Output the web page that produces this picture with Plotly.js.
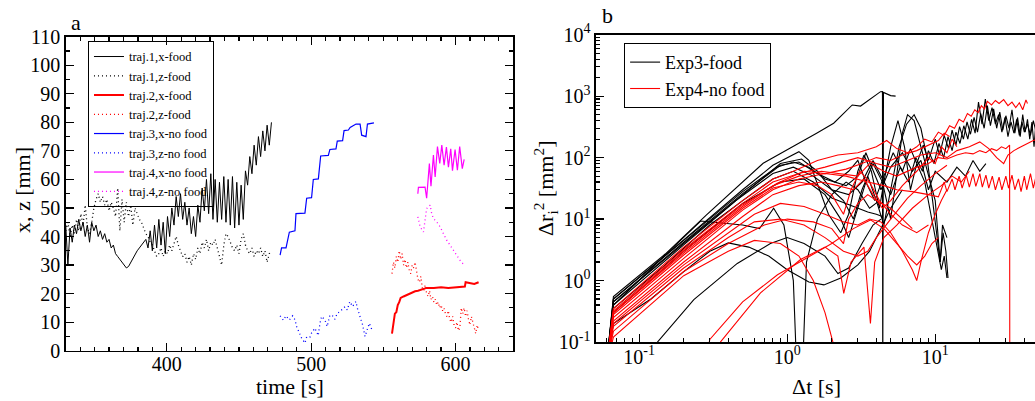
<!DOCTYPE html>
<html>
<head>
<meta charset="utf-8">
<script src="https://cdn.plot.ly/plotly-3.0.1.min.js"></script>
<style>html,body{margin:0;padding:0;background:#fff}#chart{width:1035px;height:401px}</style>
</head>
<body>
<div id="chart"></div>
<script>
// ---- panel a : positions vs time ----
// traj 1 sampled every 1.5 s from 330 s
const traj1X = [44,30,43,38,44,41,46,42,45,40,44,38,45,42,44,40,42,
  39,41,38,39,36,37,34,33,32,31,30,29,29.5,
  31,32.5,34,35,36,37,38,39,
  36,42,35,44,36,46,37,45,34,47, 40,50,44,54,47,55,46,52,44,50,
  41,47,40,51,45,57,49,60,48,62, 46,60,45,59,46,61,45,60,44,61,
  43,59,44,58,46,63,58,68,62,72, 65,75,68,77,70,79,72,80];
const traj1Z = [42,45,40,44,41,46,42,48,44,51,43,41,45,50,53,55,52,
  54,51,53,49,52,50,47,57,42,53,45,52,47,
  51,44,50,48,46,45,43,41,
  40,38,37,35,33,34,36,33,35,34, 37,35,38,40,37,35,33,34,31,33,
  30,34,32,36,34,38,36,39,35,38, 37,39,36,34,30,37,41,40,38,36,
  35,37,34,39,41,37,35,34,36,33, 35,34,36,33,35,31,34,35];

// traj 2
const traj2Xt = [556,557,558,559,560,561,562,564,566,568,570,572,574,576,578,580,585,590,595,600,605,606.5,607,610,613,616];
const traj2X  = [6,10,13,13.5,16,17,18.5,19,19.5,19.8,20.5,20.8,21,21.3,21.8,22,22,22.2,22,22.2,22.2,22.5,24,23.6,23.4,24];
// sampled every 1 s from 556 s
const traj2Z = [27,31,29,33,31,35,32,34,30,32, 29,31,28,27,30,29,31,27,25,24,
  26,22,21,23,20,19,21,18,19,17, 18,16,17,15,16,14,15,13,12,14,
  11,10,12,9,8,10,7,8,15,13, 15,12,14,11,9,12,10,8,6,9, 7];

// traj 3
const traj3Xt = [478.5,479.5,482.6,484.9,488.8,489.5,495.7,496.9,500.3,501.5,505,506.6,511.9,513,517.2,518.1,521.8,522.8,525.8,527,531.1,533.9,535,538,539,542,543.5];
const traj3X  = [33.5,36,36,41.5,42,48,48.2,53.4,53.6,60,60.2,68.2,68.4,70.5,70.7,73.4,73.6,77.1,77.3,78.2,79.4,79.4,75.5,75,79.4,79.6,79.8];
const traj3Zt = [478.5,480.8,482.6,484.9,487.2,488.8,490,491.8,493.4,495.7,496.9,499.2,500.3,502.6,504.9,506.1,507.2,509.5,511.1,513,514.8,516.4,518.1,519.9,521.8,523.4,525,526.8,528.7,531,532,533.9,535.7,537.3,539,540.3,542.6];
const traj3Z  = [12.2,10.7,12.2,10.8,12.2,10.8,8.4,5.9,4.4,2.7,4.8,4.8,6.2,7.9,5.3,9.6,12,10.8,8.5,12.5,12.2,11,13.1,13.7,14.5,15.4,14.3,17.2,15.5,17.2,14.9,12,9,5,7.9,9.6,6.7];

// traj 4
const traj4Xt = [573.9,574.3,578.9,580,581.9,583,584.7,585.9,587.5,589.1,590.5,592.1,593.7,595.1,596.7,597.9,599.7,601.3,602.9,604.7,606];
const traj4X  = [55,57.2,57.3,53.4,65.6,57.6,68.5,60.9,71.5,65.6,72,65,71.3,64.3,70.7,63.1,70.5,63.2,71.5,63.8,67];
const traj4Zt = [573.9,575.5,577.8,579,580,582.4,583.5,584.7,587,589.3,591.6,593.9,596.2,598.5,600.8,603.1,606.1];
const traj4Z  = [46.9,43.4,41.6,46.9,49.8,51,48,46.3,45.1,43.4,41,38.7,37,35.2,33.4,31.7,29.9];

// ---- panel b : mean square displacement curves [dt, dr2] ----
const e3_1 = [[0.06,0.04],[0.067,0.55],[0.15,2.7],[0.285,11.7],[0.688,81],[1.155,161],[1.58,249],[2.06,363],[2.75,719],[3.13,690],[4.27,1183],[4.4,1190],[4.42,0.02],[4.47,1150],[5.0,1020],[5.4,1000]];
const e3_2 = [[0.06,0.04],[0.067,0.5],[0.2,4.6],[0.5,30],[0.8,75],[1.2,125],[1.4,90],[1.65,30],[1.9,12],[2.3,6],[2.6,12],[3.0,60],[3.3,110],[3.7,60],[4.2,15],[4.5,40],[5,150],[5.6,400],[6.2,150],[6.8,30],[7.5,80],[8.5,40],[9.5,10],[10.5,3],[11,1.5],[11.5,2.5],[12,1.1]];
const e3_3 = [[0.06,0.04],[0.067,0.45],[0.2,4],[0.5,25],[0.9,80],[1.25,95],[1.6,60],[2.0,30],[2.4,20],[2.8,10],[3.2,30],[3.8,80],[4.4,40],[5.0,10],[5.5,60],[6.0,250],[6.5,500],[7.2,400],[8,150],[9,50],[10,20],[10.8,2],[11.2,8],[12,5]];
const e3_4 = [[0.06,0.04],[0.067,0.4],[0.26,9.3],[0.5,8],[0.65,7],[0.81,15],[0.95,8],[1.1,1],[1.17,0.02],[1.26,0.02],[1.35,2],[1.6,10],[2,25],[2.5,40],[3,30],[3.6,15],[4.2,20]];
const e3_5 = [[0.06,0.04],[0.067,0.2],[0.12,0.5],[0.2,1.4],[0.3,3],[0.4,4.1],[0.55,3.5],[0.75,2.5],[1.0,1.5],[1.4,0.95],[1.77,0.85],[2.3,1.1],[3.0,1.8],[3.6,3],[4.3,7],[5,15],[6,30]];
const e3_6 = [[0.12,0.05],[0.133,0.1],[0.234,0.49],[0.46,1.9],[0.77,4],[1.0,5],[1.3,4],[1.8,2.5],[2.2,1.3],[2.6,1.6],[3.2,4],[3.8,8],[4.3,10]];
const e3_7 = [[0.06,0.04],[0.067,0.35],[0.15,1.8],[0.3,8],[0.5,20],[0.8,45],[1.1,60],[1.5,40],[2,22],[2.5,18],[3,15],[3.5,13],[4,12],[4.4,11]];
const e3_8 = [[0.06,0.04],[0.067,0.5],[0.2,4.5],[0.5,28],[0.85,70],[1.1,85],[1.4,70],[1.8,45],[2.5,35],[3,50],[3.4,120],[3.8,60],[4.3,30],[5,70],[6,120],[7,60],[8,90],[9,30],[10,60],[12,40],[14,70],[16,50],[18,90],[20,60],[22,80]];
const e3_9 = [[0.06,0.04],[0.067,0.45],[0.2,4.2],[0.5,26],[0.9,75],[1.2,85],[1.6,55],[2.1,40],[2.6,60],[3,90],[3.4,40],[3.9,20],[4.5,50],[5.2,120],[6,60],[6.8,140],[7.5,80],[8.3,160],[9,90],[10,200],[10.7,110],[11.5,230],[12.3,140],[13,280],[13.8,160],[14.6,320],[15.5,200],[16.4,380],[17.3,240],[18.3,450],[19.3,260],[20.3,520],[21.4,300],[22.5,700],[23.6,330],[24.8,620],[26,300],[27.3,550],[28.6,280],[30,480],[31.5,300],[33,600],[34.5,250],[36,450],[37.5,220],[39,500],[40.5,260],[42,420],[43.5,200],[45,380],[46.5,150],[48,400],[50,200]];
const e3_10 = [[0.06,0.04],[0.067,0.4],[0.2,3.8],[0.45,20],[0.8,55],[1.1,70],[1.5,50],[2,30],[2.6,25],[3.2,40],[3.8,90],[4.3,50],[5,25],[5.8,70],[6.6,40],[7.4,100],[8.2,60],[9,130],[9.8,80],[10.6,170],[11.4,100],[12.2,220],[13,130],[13.8,260],[14.7,170],[15.6,330],[16.6,200],[17.6,420],[18.6,250],[19.6,800],[20.7,350],[21.8,900],[23,400],[24.2,650],[25.5,350],[26.8,500],[28.2,260],[29.6,450],[31,220],[32.5,380],[34,250],[35.5,420],[37,230],[38.5,380],[40,260],[42,350],[44,230],[46,400],[48,260],[50,500]];
const e3_11 = [[0.06,0.04],[0.067,0.3],[0.2,3],[0.5,18],[0.9,40],[1.3,45],[1.8,25],[2.3,10],[2.6,5],[3,15],[3.5,50],[4,20],[4.5,8],[5,30],[5.7,150],[6.4,350],[7.2,500],[8,300],[8.8,100],[9.6,20],[10.3,5],[10.8,2],[11.3,6],[11.8,3],[12.2,1.1]];

const e4_1 = [[0.06,0.04],[0.067,0.35],[0.2,3.5],[0.5,20],[0.8,45],[1.1,60],[1.6,90],[2.2,110],[3,120],[4,150],[4.7,190],[5.5,140],[6.5,120],[7.5,150],[8.5,200],[9.5,180],[10.5,260],[11.5,230],[12.5,330],[13.5,300],[14.5,420],[15.5,380],[16.5,520],[17.5,470],[18.5,600],[19.5,540],[20.5,700],[21.5,620],[22.5,820],[24,720],[25.5,850],[27,760],[29,880],[31,700],[33,800],[35,650],[37,780],[39,600],[41,870],[42,760]];
const e4_2 = [[0.06,0.04],[0.067,0.25],[0.2,2.3],[0.5,14],[0.8,30],[1.2,45],[1.8,55],[2.5,50],[3.5,40],[4.5,35],[5.5,30],[7,28],[9,25],[10.5,23],[11.5,40],[12,28],[13,45],[13.6,30],[14.5,50],[15.2,32],[16.2,52],[17,33],[18,55],[18.8,34],[20,55],[20.8,33],[22,52],[23,32],[24.3,50],[25.5,30],[27,48],[28.2,30],[30,50],[31.3,32],[33,52],[34.5,30],[36.5,45],[38,28],[40,50],[41.5,30],[44,55],[46,32],[48,50],[50,35]];
const e4_3 = [[0.06,0.04],[0.067,0.3],[0.2,3],[0.5,17],[0.8,35],[1.2,50],[1.7,60],[2.3,55],[3,50],[3.6,80],[4.5,60],[5.5,50],[6.5,60],[7.5,70],[9,80],[10.5,100],[12,95],[14,110],[16,120],[18,115],[20,130],[22,120],[24,140],[26,130],[28,150],[30,140],[31.8,160],[31.9,0.02]];
const e4_4 = [[0.06,0.04],[0.067,0.32],[0.2,3.2],[0.5,18],[0.8,40],[1.2,55],[1.8,70],[2.4,85],[3,100],[4,80],[5,70],[6.5,90],[8,110],[10,120],[12,100],[14,130],[17,150],[20,180],[23,140],[26,100],[29,80],[31,110],[34,130],[38,150],[42,170],[46,190],[50,200]];
const e4_5 = [[0.06,0.04],[0.067,0.2],[0.2,1.8],[0.4,6],[0.6,12],[0.9,18],[1.3,16],[1.8,12],[2.4,9],[3,8],[3.6,10],[4.3,9],[5,6],[6,3],[7,1.5],[7.5,1],[8,2],[9,6],[10,12],[11,20],[12,30]];
const e4_6 = [[0.06,0.04],[0.067,0.18],[0.2,1.6],[0.4,5],[0.6,9],[0.9,10],[1.3,8],[1.8,5],[2.4,3],[3,2.5],[3.5,3],[4,5],[5,10],[6.5,22],[8,35],[10,55],[12,75]];
const e4_7 = [[0.06,0.04],[0.067,0.15],[0.2,1.4],[0.4,4],[0.7,8],[1.0,10],[1.5,9],[2.0,7],[2.4,4],[2.6,10],[3,18],[3.5,25],[4,20],[5,15],[6,10],[7,7]];
const e4_8 = [[0.06,0.04],[0.067,0.12],[0.2,1.2],[0.4,3],[0.6,4.5],[0.9,4],[1.2,2.5],[1.5,1],[1.8,0.3],[2.05,0.1],[2.2,0.05]];
const e4_9 = [[0.28,0.05],[0.3,0.11],[0.5,0.45],[0.86,1.24],[1.3,2.2],[2,4],[2.8,7],[3.65,9.7],[4.5,7],[5.5,4],[6.5,2.5],[7.5,1.8],[8.5,2.5],[9.5,4],[10.5,5]];
const e4_10 = [[0.33,0.05],[0.354,0.1],[0.66,0.63],[1.23,2.2],[1.8,3.5],[2.2,2.5],[2.41,0.62],[2.7,2],[3.3,3.5],[3.65,0.2],[3.9,2],[4.5,5],[5.5,8],[7,15],[9,25],[11,35],[13,50],[15,40],[17,60]];
const e4_11 = [[0.06,0.04],[0.067,0.22],[0.2,2],[0.5,11],[0.8,25],[1.2,35],[1.7,40],[2.2,35],[2.8,30],[3.3,45],[3.8,25],[4.4,15],[5,20],[6,35],[7.5,60],[9,100],[10,80],[11,150],[12,120],[13,200],[14,150]];
const e4_12 = [[0.06,0.04],[0.067,0.28],[0.2,2.6],[0.5,15],[0.8,32],[1.2,40],[1.6,35],[2,25],[2.4,12],[2.7,30],[3.1,60],[3.6,40],[4.2,20],[5,12],[6,8],[7.5,6],[9,8]];
const e4_13 = [[0.06,0.04],[0.067,0.3],[0.2,2.8],[0.5,16],[0.85,38],[1.3,60],[1.8,55],[2.5,65],[3.2,80],[4,100],[5,90],[6,110],[7.5,130],[9,160],[10.5,190],[11.5,250],[12.5,220]];

const exp3Curves = [e3_1,e3_2,e3_3,e3_4,e3_5,e3_6,e3_7,e3_8,e3_9,e3_10,e3_11];
const exp4Curves = [e4_1,e4_2,e4_3,e4_4,e4_5,e4_6,e4_7,e4_8,e4_9,e4_10,e4_11,e4_12,e4_13];

const FONT = '"Liberation Serif", "Times New Roman", serif';
const DOTS = '1px,3px';

function lineTrace(name, x, y, color, dash, width) {
    let tr = {y: y, name: name, mode: 'lines', xaxis: 'x', yaxis: 'y', legend: 'legend',
              line: {color: color, dash: dash, width: width}};
    if (Array.isArray(x)) tr.x = x;
    else { tr.x0 = x.x0; tr.dx = x.dx; }   // evenly sampled series
    return tr;
}

let traces = [
    lineTrace('traj.1,x-food', {x0: 330, dx: 1.5}, traj1X, 'black', 'solid', 1),
    lineTrace('traj.1,z-food', {x0: 330, dx: 1.5}, traj1Z, 'black', DOTS, 1.3),
    lineTrace('traj.2,x-food', traj2Xt, traj2X, 'red', 'solid', 2),
    lineTrace('traj.2,z-food', {x0: 556, dx: 1}, traj2Z, 'red', DOTS, 1.3),
    lineTrace('traj.3,x-no food', traj3Xt, traj3X, 'blue', 'solid', 1.2),
    lineTrace('traj.3,z-no food', traj3Zt, traj3Z, 'blue', DOTS, 1.3),
    lineTrace('traj.4,x-no food', traj4Xt, traj4X, 'magenta', 'solid', 1.2),
    lineTrace('traj.4,z-no food', traj4Zt, traj4Z, 'magenta', DOTS, 1.3)
];

function msdTraces(curves, color, name) {
    return curves.map((c, i) => ({
        x: c.map(p => p[0]), y: c.map(p => p[1]),
        mode: 'lines', xaxis: 'x2', yaxis: 'y2', legend: 'legend2',
        name: name, showlegend: i == 0,
        line: {color: color, width: 1.1}
    }));
}
traces = traces.concat(msdTraces(exp3Curves, 'black', 'Exp3-food'));
traces = traces.concat(msdTraces(exp4Curves, 'red', 'Exp4-no food'));

const axisBase = {
    showgrid: false, zeroline: false, showline: true, linecolor: 'black', linewidth: 1.5,
    ticks: 'inside', ticklen: 8, tickwidth: 1.2, tickcolor: 'black',
    tickfont: {family: FONT, size: 20, color: 'black'}
};
const logTicks = ['10<sup>-1</sup>', '10<sup>0</sup>', '10<sup>1</sup>', '10<sup>2</sup>', '10<sup>3</sup>', '10<sup>4</sup>'];

function label(text, x, y, extra) {
    return Object.assign({text: text, x: x, y: y, xref: 'paper', yref: 'paper', showarrow: false,
        xanchor: 'center', yanchor: 'middle', font: {family: FONT, size: 22, color: 'black'}}, extra || {});
}

const layout = {
    width: 1035, height: 401,
    margin: {l: 0, r: 0, t: 0, b: 0},
    paper_bgcolor: 'white', plot_bgcolor: 'white',
    font: {family: FONT, color: 'black'},
    xaxis: Object.assign({}, axisBase, {domain: [0.0635, 0.4959], range: [330, 640],
        dtick: 100, mirror: 'ticks', ticklabelstandoff: -5,
        minor: {dtick: 10, ticks: 'inside', ticklen: 4, tickcolor: 'black'}}),
    yaxis: Object.assign({}, axisBase, {domain: [0.1254, 0.9085], range: [0, 110],
        dtick: 10, mirror: 'ticks', minor: {dtick: 5, ticks: 'inside', ticklen: 4, tickcolor: 'black'}}),
    xaxis2: Object.assign({}, axisBase, {type: 'log', anchor: 'y2', domain: [0.5758, 1], range: [-1.292, 1.674],
        tickvals: [0.1, 1, 10], ticktext: logTicks.slice(0, 3), mirror: true, ticklabelstandoff: -4,
        minor: {dtick: 'D1', ticks: 'inside', ticklen: 4, tickcolor: 'black'}}),
    yaxis2: Object.assign({}, axisBase, {type: 'log', anchor: 'x2', domain: [0.1471, 0.9135], range: [-1, 4],
        tickvals: [0.1, 1, 10, 100, 1000, 10000], ticktext: logTicks,
        minor: {dtick: 'D1', ticks: 'inside', ticklen: 4, tickcolor: 'black'}}),
    legend: {x: 0.085, y: 0.898, xanchor: 'left', yanchor: 'top', bgcolor: 'rgba(255,255,255,0)',
        bordercolor: 'black', borderwidth: 1, font: {family: FONT, size: 12.5}, itemwidth: 30, tracegroupgap: 0},
    legend2: {x: 0.603, y: 0.893, xanchor: 'left', yanchor: 'top', bgcolor: 'white',
        bordercolor: 'black', borderwidth: 1, font: {family: FONT, size: 18}, itemwidth: 30},
    showlegend: true,
    annotations: [
        label('a', 0.0734, 0.945),
        label('b', 0.5874, 0.962),
        label('x, z [mm]', 0.0213, 0.526, {textangle: -90}),
        label('time [s]', 0.280, 0.036),
        label('Δt [s]', 0.789, 0.036),
        label('Δr<sub>i</sub><sup>2</sup> [mm<sup>2</sup>]', 0.5266, 0.531, {textangle: -90})
    ]
};

Plotly.newPlot('chart', traces, layout, {displayModeBar: false, staticPlot: true});
</script>
</body>
</html>
